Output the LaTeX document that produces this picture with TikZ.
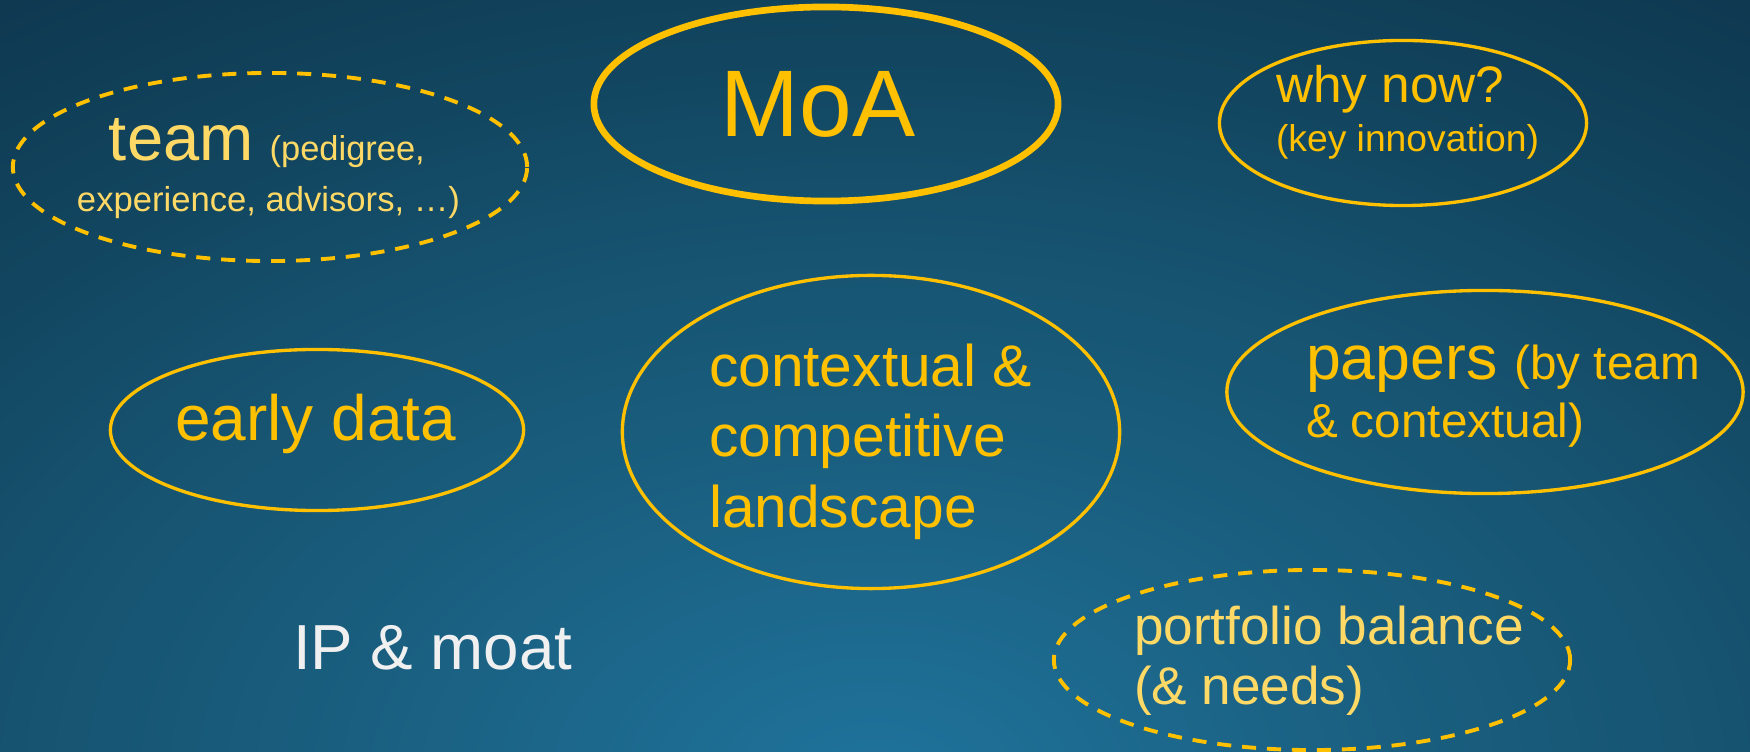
\documentclass[tikz,border=0pt]{standalone}
\usepackage{fontspec}
\setmainfont{Liberation Sans}
\usetikzlibrary{shapes.geometric}

\definecolor{gold}{HTML}{FFC000}
\definecolor{palegold}{HTML}{FFD966}
\definecolor{moatwhite}{HTML}{F0F0F0}
\definecolor{bgA}{HTML}{1F739C}
\definecolor{bgB}{HTML}{1A5F80}
\definecolor{bgC}{HTML}{165370}
\definecolor{bgD}{HTML}{124660}
\definecolor{bgE}{HTML}{0E364E}

% slide background: light glow at the bottom centre, darker towards the corners
% (the shaded ellipse is twice the glow radius, so 12.5bp marks the glow edge)
\pgfdeclareradialshading{slidebg}{\pgfpointorigin}{%
  color(0bp)=(bgA); color(4.5bp)=(bgB); color(7.5bp)=(bgC);
  color(10bp)=(bgD); color(13.75bp)=(bgE); color(50bp)=(bgE)}

\newcommand\txtsize[1]{\fontsize{#1pt}{#1pt}\selectfont}

\tikzset{
  bubble/.style={ellipse, draw=gold, line width=0.95pt, inner sep=0pt, outer sep=0pt},
  keybubble/.style={bubble, line width=1.9pt},
  maybebubble/.style={bubble, line width=1.1pt, dash pattern=on 4pt off 3.1pt},
  lbl/.style={inner sep=0pt, outer sep=0pt, anchor=base west, text=gold},
}

\begin{document}
\begin{tikzpicture}[x=0.01cm, y=-0.01cm]
  \useasboundingbox (0,0) rectangle (1750,752);
  \fill[bgE] (0,0) rectangle (1750,752);
  \begin{scope}
    \clip (0,0) rectangle (1750,752);
    \shade[shading=slidebg] (875,780) ellipse [x radius=28.8cm, y radius=18cm];
  \end{scope}

  % mechanism of action
  \node[keybubble, minimum width=4.64cm, minimum height=1.94cm] (moa) at (826,104) {};
  \node[lbl, anchor=base, font={\txtsize{26.9}}] (moaT) at (818,137) {MoA};

  % team
  \node[maybebubble, minimum width=5.14cm, minimum height=1.88cm] (team) at (270,167) {};
  \node[lbl, text=palegold] (teamA) at (109,161) {\txtsize{18.5}team\hspace{0.16cm}\txtsize{9.8}(pedigree,};
  \node[lbl, text=palegold, font={\txtsize{9.85}}] (teamB) at (77,212) {experience, advisors, …)};

  % why now
  \node[bubble, minimum width=3.67cm, minimum height=1.65cm] (why) at (1403,123) {};
  \node[lbl, font={\txtsize{14.6}}] (whyA) at (1276,103) {why now?};
  \node[lbl, font={\txtsize{10.6}}] (whyB) at (1276,152) {(key innovation)};

  % early data
  \node[bubble, minimum width=4.13cm, minimum height=1.61cm] (early) at (317,430) {};
  \node[lbl, font={\txtsize{18.2}}] (earlyT) at (175,441) {early data};

  % landscape
  \node[bubble, minimum width=4.97cm, minimum height=3.13cm] (ctx) at (871,432) {};
  \node[lbl, font={\txtsize{16.7}}] (ctxA) at (709,387) {contextual \&};
  \node[lbl, font={\txtsize{16.7}}] (ctxB) at (709,457) {competitive};
  \node[lbl, font={\txtsize{16.7}}] (ctxC) at (709,528) {landscape};

  % papers
  \node[bubble, minimum width=5.16cm, minimum height=2.03cm] (papers) at (1485,392) {};
  \node[lbl] (papersA) at (1306,380) {\txtsize{17.8}papers\hspace{0.17cm}\txtsize{13.55}(by team};
  \node[lbl, font={\txtsize{13.55}}] (papersB) at (1306,438) {\& contextual)};

  % portfolio
  \node[maybebubble, minimum width=5.16cm, minimum height=1.8cm] (port) at (1312,660) {};
  \node[lbl, text=palegold, font={\txtsize{15.1}}] (portA) at (1134,645) {portfolio balance};
  \node[lbl, text=palegold, font={\txtsize{15.1}}] (portB) at (1134,705) {(\& needs)};

  % IP
  \node[lbl, text=moatwhite, font={\txtsize{18.1}}] (ip) at (293,670) {IP \& moat};
\end{tikzpicture}
\end{document}
